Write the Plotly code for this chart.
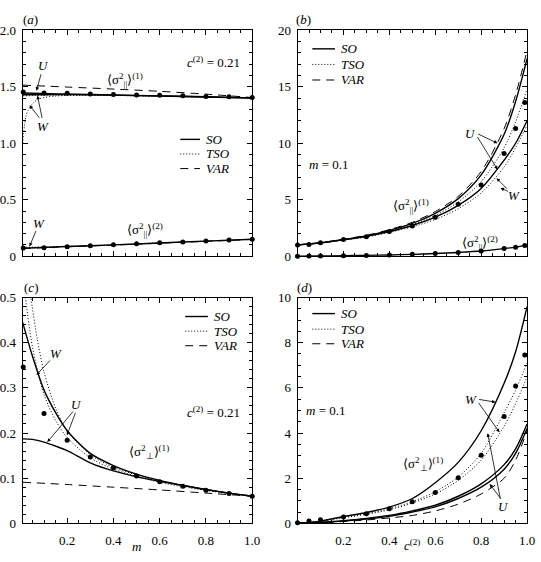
import plotly.graph_objects as go

# ---------------- data ----------------
# panel (a): <sigma_par^2> vs m, c2 = 0.21
m_dots = [0.01, 0.1, 0.2, 0.3, 0.4, 0.5, 0.6, 0.7, 0.8, 0.9, 1.0]
a1_dots = [1.454, 1.446, 1.442, 1.437, 1.431, 1.428, 1.425, 1.420, 1.414, 1.411, 1.405]
a2_dots = [0.072, 0.075, 0.084, 0.092, 0.101, 0.109, 0.118, 0.126, 0.135, 0.144, 0.149]

m_line = [0.0075, 0.2, 0.4, 0.6, 0.8, 1.0]
a1_var = [1.515, 1.498, 1.480, 1.460, 1.435, 1.405]
a1_so_u = [1.445, 1.435, 1.428, 1.420, 1.412, 1.402]
a1_so_w = [1.430, 1.432, 1.426, 1.418, 1.410, 1.400]
a1_tso_u = [1.420, 1.428, 1.424, 1.417, 1.409, 1.400]
m_tso_w = [0.0075, 0.015, 0.022, 0.03, 0.05, 0.075, 0.1, 0.15, 0.2, 0.4, 0.6, 0.8, 1.0]
a1_tso_w = [1.0, 1.15, 1.24, 1.29, 1.35, 1.39, 1.405, 1.418, 1.424, 1.423, 1.417, 1.409, 1.400]
a2_so = [0.070, 0.085, 0.100, 0.117, 0.133, 0.150]
a2_tso = [0.078, 0.087, 0.101, 0.118, 0.134, 0.150]
a2_var = [0.068, 0.083, 0.098, 0.115, 0.131, 0.148]

# panel (b): <sigma_par^2> vs c2, m = 0.1
c_dots = [0.0, 0.05, 0.1, 0.2, 0.3, 0.4, 0.5, 0.6, 0.7, 0.8, 0.9, 0.95, 0.99]
b1_dots = [1.0, 1.03, 1.18, 1.47, 1.72, 2.18, 2.67, 3.45, 4.6, 6.3, 9.1, 11.3, 13.6]
b2_dots = [0.0, 0.01, 0.02, 0.04, 0.07, 0.11, 0.16, 0.23, 0.33, 0.46, 0.67, 0.8, 0.95]

c_line = [0.0, 0.1, 0.2, 0.3, 0.4, 0.5, 0.6, 0.7, 0.8, 0.9, 0.95, 1.0]
b1_var_u = [1.0, 1.2, 1.5, 1.85, 2.35, 3.0, 3.95, 5.3, 7.5, 11.3, 14.3, 18.2]
b1_so_u = [1.0, 1.18, 1.47, 1.8, 2.28, 2.9, 3.8, 5.1, 7.2, 10.8, 13.7, 17.5]
b1_tso_u = [1.0, 1.17, 1.45, 1.77, 2.22, 2.8, 3.6, 4.8, 6.6, 9.6, 11.9, 14.8]
b1_so_w = [1.0, 1.17, 1.44, 1.75, 2.18, 2.72, 3.45, 4.5, 6.0, 8.5, 10.0, 12.0]
b1_tso_w = [1.0, 1.16, 1.42, 1.7, 2.1, 2.6, 3.25, 4.2, 5.6, 7.9, 9.6, 11.6]
b2_so = [0.0, 0.02, 0.04, 0.07, 0.11, 0.16, 0.23, 0.33, 0.46, 0.67, 0.8, 1.0]

# panel (c): <sigma_perp^2> vs m, c2 = 0.21
c_dots_perp = [0.346, 0.243, 0.184, 0.147, 0.123, 0.105, 0.092, 0.082, 0.073, 0.066, 0.060]
m_so_w = [0.0075, 0.05, 0.1, 0.15, 0.2, 0.3, 0.4, 0.5, 0.6, 0.7, 0.8, 0.9, 1.0]
c_so_w = [0.445, 0.37, 0.295, 0.245, 0.205, 0.155, 0.128, 0.109, 0.095, 0.084, 0.075, 0.067, 0.060]
c_so_u = [0.187, 0.186, 0.180, 0.171, 0.161, 0.134, 0.116, 0.103, 0.093, 0.084, 0.075, 0.067, 0.060]
m_tso_a = [0.015, 0.02, 0.05, 0.1, 0.15, 0.2, 0.3, 0.4, 0.5, 0.6, 0.7, 0.8, 0.9, 1.0]
c_tso_a = [0.54, 0.50, 0.39, 0.285, 0.228, 0.19, 0.145, 0.12, 0.104, 0.091, 0.081, 0.073, 0.066, 0.060]
m_tso_b = [0.035, 0.043, 0.07, 0.1, 0.15, 0.2, 0.3, 0.4, 0.5, 0.6, 0.7, 0.8, 0.9, 1.0]
c_tso_b = [0.53, 0.50, 0.41, 0.335, 0.255, 0.205, 0.152, 0.124, 0.107, 0.093, 0.083, 0.074, 0.067, 0.060]
m_var = [0.0075, 0.2, 0.4, 0.6, 0.8, 1.0]
c_var = [0.091, 0.086, 0.080, 0.074, 0.067, 0.060]

# panel (d): <sigma_perp^2> vs c2, m = 0.1
d_dots = [0.03, 0.1, 0.16, 0.28, 0.43, 0.65, 0.96, 1.37, 2.02, 3.02, 4.73, 6.08, 7.45]
d_so_w = [0.0, 0.1, 0.3, 0.48, 0.72, 1.1, 1.8, 2.7, 4.1, 6.2, 7.6, 9.6]
d_tso_a = [0.0, 0.1, 0.27, 0.43, 0.65, 0.96, 1.4, 2.05, 3.1, 4.9, 5.9, 7.1]
d_tso_b = [0.0, 0.09, 0.25, 0.4, 0.6, 0.9, 1.3, 1.9, 2.8, 4.3, 5.3, 6.5]
d_so_u = [0.0, 0.05, 0.12, 0.22, 0.35, 0.55, 0.8, 1.2, 1.75, 2.6, 3.3, 4.4]
d_so_u2 = [0.0, 0.04, 0.1, 0.19, 0.31, 0.5, 0.73, 1.1, 1.6, 2.4, 3.1, 4.2]
d_var = [0.0, 0.03, 0.08, 0.15, 0.24, 0.35, 0.55, 0.85, 1.3, 2.0, 2.8, 4.1]

# ---------------- layout helpers ----------------
W, H = 541, 562
FONT = "Liberation Serif, Times New Roman, serif"
def PX(x):
    return x / W
def PY(y):
    return 1 - y / H

fig = go.Figure()

SOLID = dict(color="black", width=1.4)
DOT = dict(color="black", width=1, dash="1px,2px")
DASH = dict(color="black", width=1, dash="8px,6px")

def line(x, y, style, ax):
    xa, ya = ax
    fig.add_trace(go.Scatter(x=x, y=y, mode="lines", line=dict(shape="spline", smoothing=0.8, **style),
                             xaxis=xa, yaxis=ya, showlegend=False, hoverinfo="skip"))

def dots(x, y, ax):
    xa, ya = ax
    fig.add_trace(go.Scatter(x=x, y=y, mode="markers", marker=dict(color="black", size=5),
                             xaxis=xa, yaxis=ya, showlegend=False, cliponaxis=False, hoverinfo="skip"))

A = ("x", "y"); B = ("x2", "y2"); C = ("x3", "y3"); D = ("x4", "y4")

# (a)
line(m_line, a1_var, DASH, A)
line(m_line, a1_so_u, SOLID, A)
line(m_line, a1_so_w, SOLID, A)
line(m_line, a1_tso_u, DOT, A)
line(m_tso_w, a1_tso_w, DOT, A)
line(m_line, a2_var, DASH, A)
line(m_line, a2_tso, DOT, A)
line(m_line, a2_so, SOLID, A)
dots(m_dots, a1_dots, A)
dots(m_dots, a2_dots, A)

# (b)
line(c_line, b1_var_u, DASH, B)
line(c_line, b1_so_u, SOLID, B)
line(c_line, b1_tso_u, DOT, B)
line(c_line, b1_so_w, SOLID, B)
line(c_line, b1_tso_w, DOT, B)
line(c_line, b2_so, SOLID, B)
dots(c_dots, b1_dots, B)
dots(c_dots, b2_dots, B)

# (c)
line(m_var, c_var, DASH, C)
line(m_tso_a, c_tso_a, DOT, C)
line(m_tso_b, c_tso_b, DOT, C)
line(m_so_w, c_so_w, SOLID, C)
line(m_so_w, c_so_u, SOLID, C)
dots(m_dots, c_dots_perp, C)

# (d)
line(c_line, d_var, DASH, D)
line(c_line, d_tso_a, DOT, D)
line(c_line, d_tso_b, DOT, D)
line(c_line, d_so_u2, SOLID, D)
line(c_line, d_so_u, SOLID, D)
line(c_line, d_so_w, SOLID, D)
dots(c_dots, d_dots, D)

# ---------------- axes ----------------
xdomL = [23 / W, 256 / W]
xdomR = [302 / W, 535 / W]
ydomT = [1 - 256 / H, 1 - 24 / H]
ydomB = [1 - 530.5 / H, 1 - 298.5 / H]

tickfont = dict(family=FONT, size=13, color="black")

def axis(domain, rng, anchor, tickvals=None, ticktext=None, minor=None, showlabels=True, standoff=3):
    d = dict(domain=domain, range=rng, anchor=anchor, showline=True, linecolor="black", linewidth=1,
             mirror="ticks", ticks="inside", ticklen=5, tickwidth=1, tickcolor="black",
             showgrid=False, zeroline=False, tickfont=tickfont, showticklabels=showlabels,
             tickmode="array", tickvals=tickvals, ticktext=ticktext, fixedrange=True,
             ticklabelstandoff=standoff)
    if minor is not None:
        d["minor"] = dict(ticks="inside", ticklen=3, tickwidth=1, tickcolor="black", dtick=minor, tick0=0, showgrid=False)
    return d

mx_vals = [0.2, 0.4, 0.6, 0.8, 1.0]
mx_text = ["0.2", "0.4", "0.6", "0.8", "1.0"]

fig.update_layout(
    xaxis=axis(xdomL, [0.0075, 1.0], "y", mx_vals, mx_text, 0.05, showlabels=False),
    yaxis=axis(ydomT, [0, 2.0], "x", [0, 0.5, 1.0, 1.5, 2.0], ["0", "0.5", "1.0", "1.5", "2.0"], 0.1),
    xaxis2=axis(xdomR, [0, 1.0], "y2", mx_vals, mx_text, 0.05, showlabels=False),
    yaxis2=axis(ydomT, [0, 20], "x2", [0, 5, 10, 15, 20], ["0", "5", "10", "15", "20"], 1),
    xaxis3=axis(xdomL, [0.0075, 1.0], "y3", mx_vals, mx_text, 0.05, standoff=5),
    yaxis3=axis(ydomB, [0, 0.5], "x3", [0, 0.1, 0.2, 0.3, 0.4, 0.5], ["0", "0.1", "0.2", "0.3", "0.4", "0.5"], 0.02),
    xaxis4=axis(xdomR, [0, 1.0], "y4", mx_vals, mx_text, 0.05, standoff=5),
    yaxis4=axis(ydomB, [0, 10], "x4", [0, 2, 4, 6, 8, 10], ["0", "2", "4", "6", "8", "10"], 0.5),
    width=W, height=H, margin=dict(l=0, r=0, t=0, b=0),
    plot_bgcolor="white", paper_bgcolor="white", showlegend=False,
    font=dict(family=FONT, size=13, color="black"),
)

# ---------------- text annotations ----------------
ann = []
def text(x, y, s, size=13, anchor="center"):
    ann.append(dict(x=PX(x), y=PY(y), xref="paper", yref="paper", text=s, showarrow=False,
                    xanchor=anchor, yanchor="middle", font=dict(family=FONT, size=size, color="black")))

def arrow(tail, tip):
    ann.append(dict(x=PX(tip[0]), y=PY(tip[1]), xref="paper", yref="paper", text="",
                    showarrow=True, ax=tail[0] - tip[0], ay=tail[1] - tip[1],
                    arrowhead=2, arrowsize=0.9, arrowwidth=0.8, arrowcolor="black", standoff=0, startstandoff=0))

par1 = "⟨σ<sup>2</sup><sub>||</sub>⟩<sup>(1)</sup>"
par2 = "⟨σ<sup>2</sup><sub>||</sub>⟩<sup>(2)</sup>"
perp1 = "⟨σ<sup>2</sup><sub>⊥</sub>⟩<sup>(1)</sup>"
c2lab = "<i>c</i><sup>(2)</sup> = 0.21"
mlab = "<i>m</i> = 0.1"

# (a)
text(31, 13, "(<i>a</i>)")
text(217, 56, c2lab)
text(127, 75, par1)
text(147, 229, par2)
text(44, 60, "<i>U</i>")
arrow((42, 68), (37, 86))
text(44, 123, "<i>W</i>")
arrow((41, 115), (30, 101))
arrow((43, 115), (38, 91))
text(40, 222, "<i>W</i>")
arrow((37, 229), (30, 246))

# (b)
text(308, 13, "(<i>b</i>)")
text(333, 162, mlab)
text(417, 204, par1)
text(487, 242, par2)
text(478, 130, "<i>U</i>")
arrow((484, 130), (505, 140))
arrow((484, 133), (505, 167))
text(522, 194, "<i>W</i>")
arrow((516, 188), (504, 176))
arrow((517, 190), (508, 186))

# (c)
text(31, 288, "(<i>c</i>)")
text(217, 416, c2lab)
text(151, 457, perp1)
text(57, 356, "<i>W</i>")
arrow((52, 362), (37, 378))
text(78, 408, "<i>U</i>")
arrow((75, 415), (48, 447))
arrow((77, 416), (68, 440))

# (d)
text(309, 288, "(<i>d</i>)")
text(330, 415, mlab)
text(429, 470, perp1)
text(478, 403, "<i>W</i>")
arrow((485, 403), (503, 406))
arrow((485, 406), (507, 437))
text(511, 513, "<i>U</i>")
arrow((508, 505), (495, 438))
arrow((509, 506), (497, 490))

# axis titles
text(139, 554, "<i>m</i>")
text(418, 553, "<i>c</i><sup>(2)</sup>")

# ---------------- legends (drawn) ----------------
shapes = []
def legend(x0, x1, xt, ys):
    styles = [SOLID, DOT, DASH]
    labels = ["<i>SO</i>", "<i>TSO</i>", "<i>VAR</i>"]
    for yy, st, lb in zip(ys, styles, labels):
        shapes.append(dict(type="line", xref="paper", yref="paper", x0=PX(x0), x1=PX(x1), y0=PY(yy), y1=PY(yy),
                           line=dict(color="black", width=st["width"], dash=st.get("dash", "solid"))))
        text(xt, yy, lb, anchor="left")

legend(183, 203, 207, [136, 151, 166])
legend(317, 340, 344, [43, 59, 75])
legend(188, 211, 215, [318, 333, 348])
legend(317, 340, 344, [315, 331, 346])

fig.update_layout(annotations=ann, shapes=shapes)
fig.write_html("out.html", post_script="document.body.style.margin='0';")
